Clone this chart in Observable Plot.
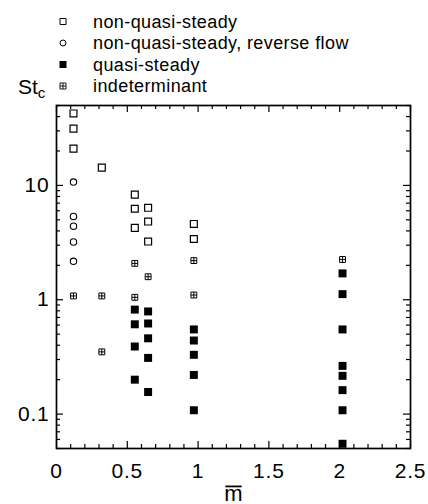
<!DOCTYPE html>
<html><head><meta charset="utf-8">
<script src="https://cdn.jsdelivr.net/npm/d3@7"></script>
<script src="https://cdn.jsdelivr.net/npm/@observablehq/plot@0.6"></script>
<style>
body{margin:0;background:#fff;}
#wrap{position:relative;width:428px;height:504px;font-family:"Liberation Sans",Arial,Helvetica,sans-serif;color:#000;}
#overlay{position:absolute;left:0;top:0;}
</style>
</head><body>
<div id="wrap"></div>
<script>
// ---- data ----
const seriesNames = ["non-quasi-steady", "non-quasi-steady, reverse flow", "quasi-steady", "indeterminant"];
const nqsM  = [0.12, 0.12, 0.12, 0.32, 0.553, 0.553, 0.553, 0.647, 0.647, 0.647, 0.97, 0.97];
const nqsSt = [42.6, 31.4, 21.0, 14.3, 8.3, 6.25, 4.25, 6.37, 4.83, 3.23, 4.6, 3.4];
const revM  = [0.12, 0.12, 0.12, 0.12, 0.12];
const revSt = [10.7, 5.35, 4.4, 3.2, 2.17];
const qsM   = [0.553, 0.553, 0.553, 0.553, 0.647, 0.647, 0.647, 0.647, 0.647, 0.97, 0.97, 0.97, 0.97, 0.97, 2.02, 2.02, 2.02, 2.02, 2.02, 2.02, 2.02, 2.02];
const qsSt  = [0.82, 0.61, 0.39, 0.20, 0.79, 0.62, 0.46, 0.31, 0.156, 0.55, 0.44, 0.33, 0.22, 0.108, 1.7, 1.12, 0.55, 0.264, 0.216, 0.162, 0.108, 0.055];
const indM  = [0.12, 0.32, 0.32, 0.553, 0.553, 0.647, 0.97, 0.97, 2.02];
const indSt = [1.08, 1.08, 0.35, 2.08, 1.05, 1.59, 2.2, 1.1, 2.25];
const xTicks = [0, 0.5, 1, 1.5, 2, 2.5];
const xMinor = [0.1,0.2,0.3,0.4,0.6,0.7,0.8,0.9,1.1,1.2,1.3,1.4,1.6,1.7,1.8,1.9,2.1,2.2,2.3,2.4];
const yTicks = [0.1, 1, 10];
const yMinor = [0.05,0.06,0.07,0.08,0.09,0.2,0.3,0.4,0.5,0.6,0.7,0.8,0.9,2,3,4,5,6,7,8,9,20,30,40,50];
const xLabel = "m";
const yLabel = ["St", "c"];

// ---- symbols ----
const squarePlus = {draw(ctx, size){const w=Math.sqrt(size)/2;
  ctx.moveTo(-w,-w);ctx.lineTo(w,-w);ctx.lineTo(w,w);ctx.lineTo(-w,w);ctx.closePath();
  ctx.moveTo(0,-w);ctx.lineTo(0,w);ctx.moveTo(-w,0);ctx.lineTo(w,0);}};

const toRows = (ms, ss) => ms.map((m, i) => ({m, st: ss[i]}));
const font = '"Liberation Sans",Arial,Helvetica,sans-serif';
const W = 428, H = 504, mL = 56, mR = 18, mT = 105, mB = 56;
const fw = W - mL - mR, fh = H - mT - mB;
const tk = {stroke: "black", strokeWidth: 1.2};

const plot = Plot.plot({
  width: W, height: H, marginLeft: mL, marginRight: mR, marginTop: mT, marginBottom: mB,
  style: {fontFamily: font, background: "white", color: "black"},
  x: {domain: [0, 2.5]},
  y: {type: "log", domain: [0.05, 50]},
  marks: [
    Plot.frame({stroke: "black", strokeWidth: 1.7}),
    Plot.tickX(xTicks, {x: d => d, insetTop: fh - 7, ...tk}),
    Plot.tickX(xTicks, {x: d => d, insetBottom: fh - 7, ...tk}),
    Plot.tickX(xMinor, {x: d => d, insetTop: fh - 4, ...tk}),
    Plot.tickX(xMinor, {x: d => d, insetBottom: fh - 4, ...tk}),
    Plot.tickY(yTicks, {y: d => d, insetRight: fw - 7, ...tk}),
    Plot.tickY(yTicks, {y: d => d, insetLeft: fw - 7, ...tk}),
    Plot.tickY(yMinor, {y: d => d, insetRight: fw - 4, ...tk}),
    Plot.tickY(yMinor, {y: d => d, insetLeft: fw - 4, ...tk}),
    Plot.axisX(xTicks, {anchor: "bottom", tickSize: 0, tickPadding: 15, fontSize: 21, tickFormat: d => String(d),
      label: xLabel, labelAnchor: "center", labelOffset: 52, labelArrow: "none"}),
    Plot.axisY(yTicks, {anchor: "left", tickSize: 0, tickPadding: 7, fontSize: 21, tickFormat: d => String(d), label: null}),
    Plot.dot(toRows(nqsM, nqsSt), {x: "m", y: "st", symbol: "square", r: 3.9, stroke: "black", strokeWidth: 1.2, fill: "none"}),
    Plot.dot(toRows(revM, revSt), {x: "m", y: "st", symbol: "circle", r: 3.2, stroke: "black", strokeWidth: 1.1, fill: "none"}),
    Plot.dot(toRows(qsM, qsSt), {x: "m", y: "st", symbol: "square", r: 4.5, fill: "black", stroke: "none"}),
    Plot.dot(toRows(indM, indSt), {x: "m", y: "st", symbol: squarePlus, r: 3.3, stroke: "black", strokeWidth: 1, fill: "none"})
  ]
});
const svg = d3.select(plot);
svg.selectAll("[aria-label='x-axis tick label'] text, [aria-label='y-axis tick label'] text").style("letter-spacing", "0.8px");
const lab = svg.select("[aria-label='x-axis label'] text").attr("font-size", 22);
const wrap = document.getElementById("wrap");
wrap.appendChild(plot);

// overline over the x label "m" (same transform as the label text)
{
  const node = lab.node();
  const bb = node.getBBox();
  const fs = 22;
  const baseline = bb.y + bb.height - 0.212 * fs;
  const yl = baseline - 0.519 * fs - 3;
  d3.select(node.parentNode).append("line")
    .attr("transform", node.getAttribute("transform"))
    .attr("x1", bb.x + 1).attr("x2", bb.x + bb.width - 1)
    .attr("y1", yl).attr("y2", yl)
    .attr("stroke", "black").attr("stroke-width", 1.8);
}

// ---- legend + y label overlay ----
const ov = d3.select(wrap).append("svg").attr("id", "overlay").attr("width", W).attr("height", 100)
  .style("font-family", font);
const legSyms = [
  {type: d3.symbolSquare, size: 36, fill: "none", sw: 1},
  {type: d3.symbolCircle, size: 28, fill: "none", sw: 1},
  {type: d3.symbolSquare, size: 49, fill: "black", sw: 0},
  {type: squarePlus, size: 36, fill: "none", sw: 0.9}
];
seriesNames.forEach((name, i) => {
  const y = 21.5 + i * 21.5;
  const s = legSyms[i];
  ov.append("path").attr("d", d3.symbol(s.type, s.size)()).attr("transform", `translate(63,${y})`)
    .attr("fill", s.fill).attr("stroke", s.sw ? "black" : "none").attr("stroke-width", s.sw);
  ov.append("text").attr("x", 93).attr("y", y).attr("dy", "0.35em").attr("font-size", 18)
    .style("letter-spacing", "0.4px").text(name);
});
const ylab = ov.append("text").attr("x", 18).attr("y", 94).attr("font-size", 21);
ylab.append("tspan").text(yLabel[0]);
ylab.append("tspan").attr("dy", 4).attr("font-size", 15).text(yLabel[1]);
</script>
</body></html>
